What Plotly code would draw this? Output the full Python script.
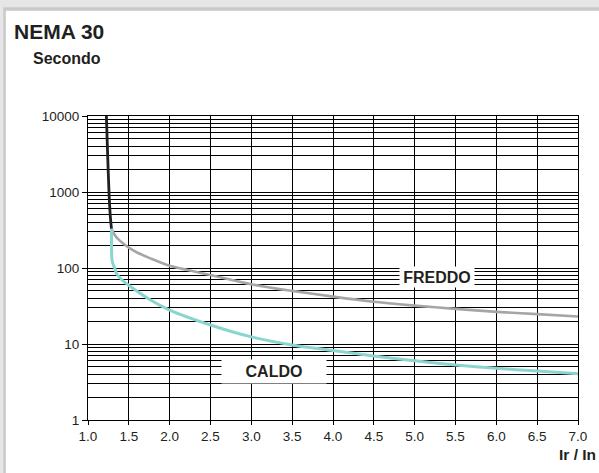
import plotly.graph_objects as go

# Trip curve data: time in seconds versus current multiple Ir / In
black_x = [1.225, 1.241, 1.257, 1.272, 1.287]
black_y = [10000, 3000, 1000, 500, 330]

freddo_x = [1.287, 1.32, 1.36, 1.42, 1.5, 1.6, 1.75, 2.0, 2.5, 3.0, 3.5, 4.0, 4.5, 5.0, 5.5, 6.0, 6.5, 7.0]
freddo_y = [330, 280, 245, 215, 185, 160, 136, 107, 81, 61, 50, 42, 36, 32, 29, 26.5, 24.7, 23]

caldo_x = [1.287, 1.288, 1.291, 1.298, 1.31, 1.327, 1.348, 1.42, 1.51, 1.755, 2.0, 2.5, 3.0, 3.5, 4.0, 4.5, 5.0, 5.5, 6.0, 6.5, 7.0]
caldo_y = [330, 200, 140, 122, 110, 100, 85, 69, 58, 38.6, 28, 17.8, 12.4, 9.7, 8.2, 6.95, 6.0, 5.3, 4.8, 4.4, 4.07]

x_ticks = [1.0, 1.5, 2.0, 2.5, 3.0, 3.5, 4.0, 4.5, 5.0, 5.5, 6.0, 6.5, 7.0]
x_tick_text = ["1.0", "1.5", "2.0", "2.5", "3.0", "3.5", "4.0", "4.5", "5.0", "5.5", "6.0", "6.5", "7.0"]
y_ticks = [1, 10, 100, 1000, 10000]
y_tick_text = ["1", "10", "100", "1000", "10000"]
y_minor = [m * d for d in (1, 10, 100, 1000) for m in range(2, 10)]

BOLD = "Liberation Sans, Arial, sans-serif"
SANS = "Liberation Sans, Arial, sans-serif"
INK = "#231f20"

W, H = 599, 473
L, R, T, B = 88, 21, 116, 53
PW, PH = W - L - R, H - T - B


def px(x):
    return (x - L) / PW


def py(y):
    return (H - B - y) / PH


fig = go.Figure()
fig.add_trace(go.Scatter(x=freddo_x, y=freddo_y, mode="lines",
                         line=dict(color="#a6a6aa", width=2.6, shape="spline", smoothing=0.8),
                         hoverinfo="skip", showlegend=False))
fig.add_trace(go.Scatter(x=caldo_x, y=caldo_y, mode="lines",
                         line=dict(color="#8ad6ce", width=3, shape="spline", smoothing=0.8),
                         hoverinfo="skip", showlegend=False))
fig.add_trace(go.Scatter(x=black_x, y=black_y, mode="lines",
                         line=dict(color=INK, width=2.8, shape="spline", smoothing=0.8),
                         hoverinfo="skip", showlegend=False))

# Panel frame: grey page, darker edge, white card
fig.add_shape(type="rect", xref="paper", yref="paper", layer="below",
              x0=px(3.3), x1=px(W + 5), y0=py(7.3), y1=py(H + 5),
              fillcolor="#c9c9c9", line=dict(width=0))
fig.add_shape(type="rect", xref="paper", yref="paper", layer="below",
              x0=px(5.8), x1=px(W + 5), y0=py(10.7), y1=py(H + 5),
              fillcolor="#ffffff", line=dict(width=0))

fig.add_annotation(text="<b>NEMA 30</b>", xref="paper", yref="paper",
                   x=px(12), y=py(31), xanchor="left", yanchor="middle", showarrow=False,
                   font=dict(family=BOLD, size=21, color=INK))
fig.add_annotation(text="<b>Secondo</b>", xref="paper", yref="paper",
                   x=px(31), y=py(58.5), xanchor="left", yanchor="middle", showarrow=False,
                   font=dict(family=BOLD, size=16, color=INK))
fig.add_annotation(text="<b>Ir / In</b>", xref="paper", yref="paper",
                   x=px(598), y=py(454), xanchor="right", yanchor="middle", showarrow=False,
                   font=dict(family=BOLD, size=15.5, color=INK))

# Curve labels on white boxes over the grid
fig.add_annotation(text="<b>FREDDO</b>", xref="paper", yref="paper",
                   x=px(437), y=py(277), xanchor="center", yanchor="middle", showarrow=False,
                   font=dict(family=BOLD, size=16, color=INK),
                   bgcolor="#ffffff", width=74, height=20, borderpad=0)
fig.add_annotation(text="<b>CALDO</b>", xref="paper", yref="paper",
                   x=px(274), y=py(371.5), xanchor="center", yanchor="middle", showarrow=False,
                   font=dict(family=BOLD, size=16, color=INK),
                   bgcolor="#ffffff", width=104, height=23, borderpad=0)

fig.update_layout(
    width=W, height=H,
    margin=dict(l=L, r=R, t=T, b=B, autoexpand=False),
    paper_bgcolor="#e6e6e6",
    plot_bgcolor="#ffffff",
    xaxis=dict(range=[1.0, 7.0], tickvals=x_ticks, ticktext=x_tick_text,
               showgrid=True, gridcolor="#000000", gridwidth=1,
               showline=True, linecolor="#000000", linewidth=1, mirror=True,
               ticks="outside", ticklen=4, tickcolor="#000000", tickwidth=1,
               zeroline=False, fixedrange=True,
               tickfont=dict(family=SANS, size=13.5, color=INK)),
    yaxis=dict(type="log", range=[0, 4], tickvals=y_ticks, ticktext=y_tick_text,
               showgrid=True, gridcolor="#000000", gridwidth=1,
               showline=True, linecolor="#000000", linewidth=1, mirror=True,
               ticks="outside", ticklen=5, tickcolor="#000000", tickwidth=1,
               zeroline=False, fixedrange=True,
               tickfont=dict(family=SANS, size=13.5, color=INK),
               minor=dict(tickvals=y_minor, showgrid=True, gridcolor="#000000",
                          gridwidth=1, ticks="")),
)

fig.write_html("out.html", config={"displayModeBar": False})
